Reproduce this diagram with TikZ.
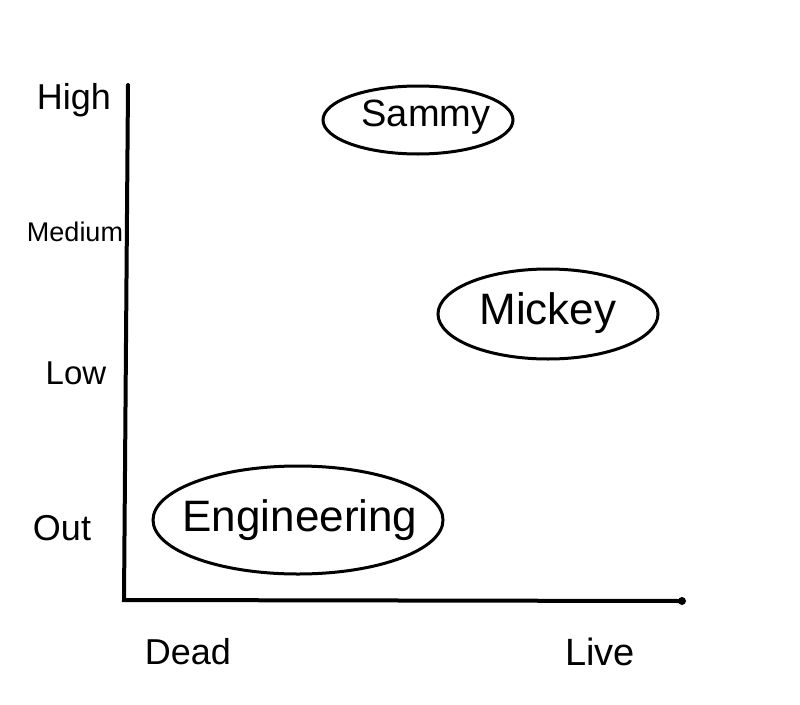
\documentclass[tikz,border=0pt]{standalone}
\usepackage{fontspec}
\setmainfont{Liberation Sans}
\usetikzlibrary{shapes.geometric}
\newcommand{\fsz}[1]{\fontsize{#1}{#1}\selectfont}
\begin{document}
\begin{tikzpicture}[x=1pt,y=-1pt,
  axisline/.style={line width=4pt,line cap=round,black},
  blob/.style={draw,ellipse,line width=3pt,inner sep=0pt},
  ticklabel/.style={font=\fsz{36}}]
\useasboundingbox (0,0) rectangle (800,704);
\fill[white] (0,0) rectangle (800,704);
\coordinate (top) at (128,85);
\coordinate (origin) at (124,600);
\coordinate (right) at (682,601);
\draw[axisline] (top) -- (origin) -- (right);
\fill (right) circle (4);
\node[ticklabel] (high) at (74,100) {High};
\node[font=\fsz{27}] (medium) at (75,232) {Medium};
\node[font=\fsz{33}] (low) at (76,373) {Low};
\node[ticklabel] (out) at (62,528) {Out};
\node[ticklabel] (dead) at (188,652) {Dead};
\node[font=\fsz{38}] (live) at (600,652) {Live};
\node[blob,minimum width=190,minimum height=68] (sammyE) at (418,120) {};
\node[font=\fsz{38}] (sammy) at (426,117) {Sammy};
\node[blob,minimum width=220,minimum height=90] (mickeyE) at (548,314) {};
\node[font=\fsz{44}] (mickey) at (548,313) {Mickey};
\node[blob,minimum width=290,minimum height=108] (engE) at (298,520) {};
\node[font=\fsz{44}] (eng) at (300,520) {Engineering};
\end{tikzpicture}
\end{document}
